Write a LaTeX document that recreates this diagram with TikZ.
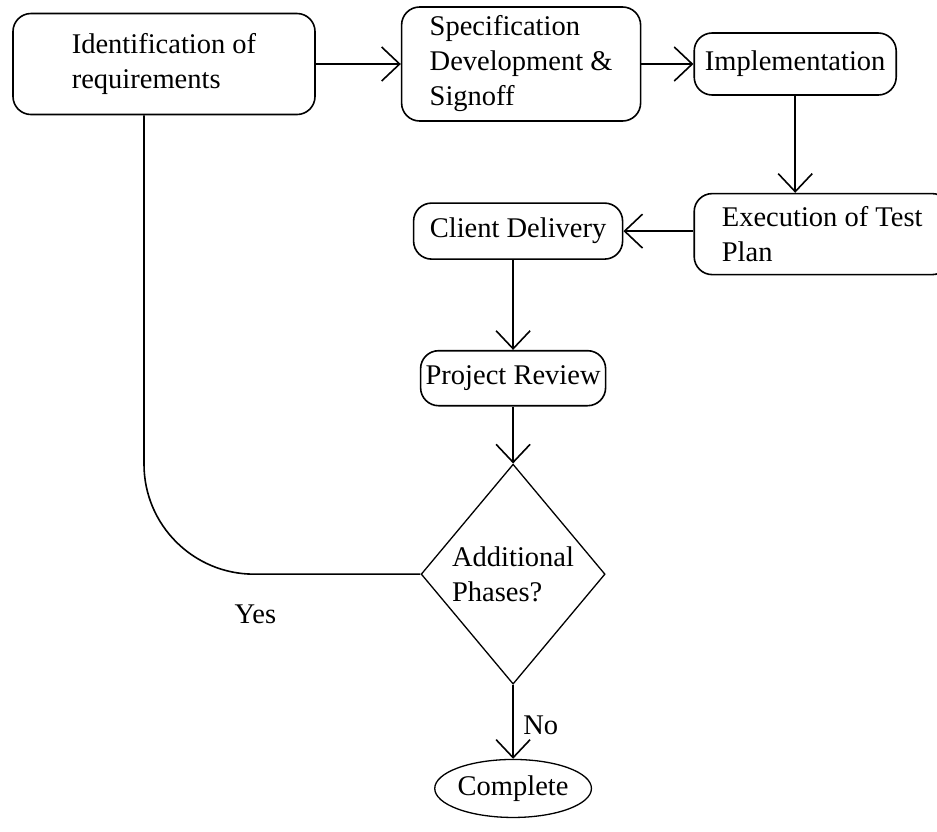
\documentclass[tikz,border=0pt]{standalone}
\usepackage{fontspec}
\setmainfont{Liberation Serif}
\usetikzlibrary{arrows.meta,positioning,shapes.geometric}

\begin{document}
\fontsize{28.5}{35}\selectfont
\begin{tikzpicture}[every node/.style={align=left},
    stepbox/.style={draw, line width=1.6pt, rounded corners=18pt, inner sep=4pt},
    flow/.style={-{Straight Barb[length=18pt,width=34pt]}, line width=1.6pt}]
  \useasboundingbox (0,0) rectangle (937pt,-831pt);
  \node [stepbox, minimum width=302pt, minimum height=101pt] (ident) at (164pt,-64pt) {Identification of\\requirements};
  \node [stepbox, minimum width=239pt, minimum height=114pt, right=85pt of ident] (spec) {Specification\\Development \&\\Signoff};
  \node [stepbox, minimum width=202pt, minimum height=62pt, right=52pt of spec] (impl) {Implementation};
  \node [stepbox, minimum width=256pt, minimum height=81pt, below=97pt of impl.south west, anchor=north west] (exec) {Execution of Test\\Plan};
  \node [stepbox, minimum width=209pt, minimum height=56pt, left=70pt of exec, yshift=3pt] (client) {Client Delivery};
  \node [stepbox, minimum width=185pt, minimum height=55pt, below=90pt of client, xshift=-5pt] (review) {Project Review};
  \node [draw, diamond, line width=1.3pt, minimum width=184pt, minimum height=220pt, inner sep=0pt, below=57pt of review] (diam) {Additional\\Phases?};
  \node [draw, ellipse, line width=1.3pt, minimum width=156pt, minimum height=58pt, inner sep=0pt, below=74pt of diam] (done) {Complete};
  \draw [flow] (ident) -- (spec);
  \draw [flow] (spec) -- (impl);
  \draw [flow] (impl.south) -- (impl.south |- exec.north);
  \draw [flow] (exec.west |- client.east) -- (client.east);
  \draw [flow] (review.north |- client.south) -- (review.north);
  \draw [flow] (review) -- (diam);
  \draw [flow] (diam) -- node [right, pos=.55] (no) {No} (done);
  % yes branch back to the start
  \draw [line width=1.6pt, rounded corners=110pt] ([xshift=-20pt]ident.south) |- (diam.west);
  \node (yes) at ([xshift=-165pt, yshift=-40pt]diam.west) {Yes};
\end{tikzpicture}
\end{document}
